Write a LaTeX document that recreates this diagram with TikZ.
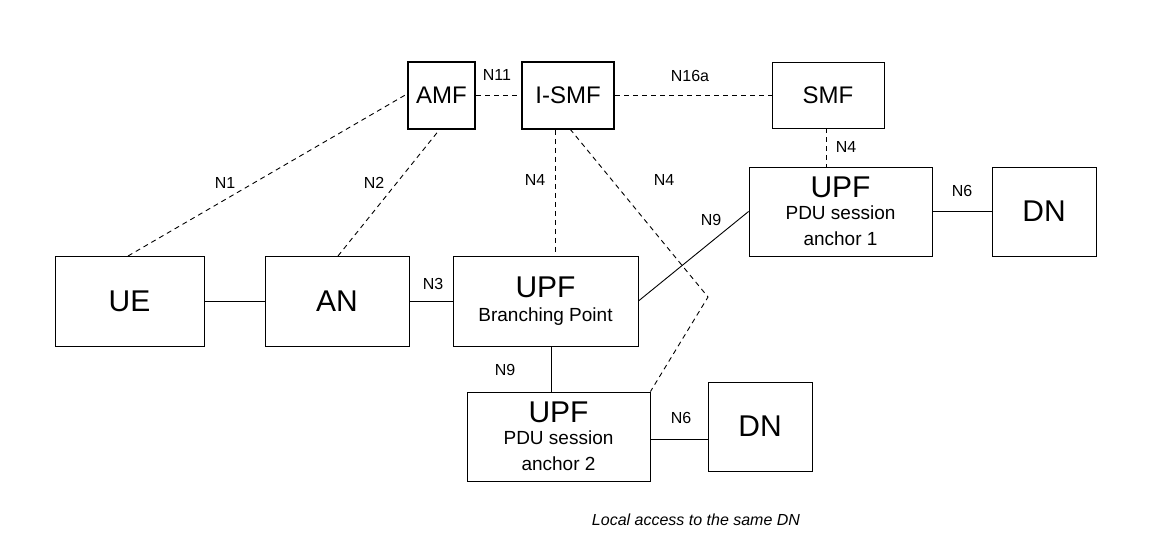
\documentclass[tikz,border=0pt]{standalone}
\usepackage{fontspec}
\setmainfont{Liberation Sans}
\usetikzlibrary{positioning}
\tikzset{
  nf/.style={draw, line width=0.9pt, inner sep=0pt, align=center, font=\fontsize{24}{26}\selectfont},
  nfthick/.style={nf, line width=2pt},
  lbl/.style={font=\fontsize{16}{18}\selectfont, inner sep=1pt},
  ctrl/.style={line width=0.9pt, dash pattern=on 5pt off 4pt},
  usr/.style={line width=0.9pt}
}
\newcommand{\bigtxt}{\fontsize{30}{30}\selectfont}
\newcommand{\smalltxt}{\fontsize{19}{22}\selectfont}
\begin{document}
\begin{tikzpicture}[x=1pt,y=-1pt]
\useasboundingbox (0,0) rectangle (1162,556);
% control plane
\node[nfthick, minimum width=67pt, minimum height=67pt] (amf) at (441.5,95.5) {AMF};
\node[nfthick, minimum width=92pt, minimum height=67pt] (ismf) at (568,95.5) {I-SMF};
\node[nf, minimum width=112pt, minimum height=66pt] (smf) at (828,95) {SMF};
% access and user plane
\node[nf, minimum width=149pt, minimum height=90pt, font=\bigtxt] (ue) at (129.5,301) {UE};
\node[nf, minimum width=144pt, minimum height=90pt, font=\bigtxt] (an) at (337,301) {AN};
\node[nf, minimum width=185pt, minimum height=90pt] (bp) at (545.5,301)
  {\bigtxt UPF\\[-2pt] \smalltxt Branching Point};
\node[nf, minimum width=183pt, minimum height=89pt] (psa1) at (840.5,211.5)
  {\bigtxt UPF\\[-4pt] \smalltxt PDU session\\ \smalltxt anchor 1};
\node[nf, minimum width=104pt, minimum height=89pt, font=\bigtxt] (dn1) at (1044,211.5) {DN};
\node[nf, minimum width=183pt, minimum height=89pt] (psa2) at (558.5,436.5)
  {\bigtxt UPF\\[-4pt] \smalltxt PDU session\\ \smalltxt anchor 2};
\node[nf, minimum width=104pt, minimum height=89pt, font=\bigtxt] (dn2) at (760,426.5) {DN};
\coordinate (bend) at (708,297);
% connectors
\draw[ctrl] (128,256) -- (amf.west |- 0,94);
\draw[ctrl] (338,256) -- (440,129);
\draw[ctrl] (amf.east |- 0,95) -- (ismf.west |- 0,95);
\draw[ctrl] (ismf.east |- 0,95) -- (smf.west |- 0,95);
\draw[ctrl] (ismf.south -| 555,0) -- (bp.north -| 555,0);
\draw[ctrl] (570,129) -- (bend) -- (psa2.north east);
\draw[ctrl] (smf.south -| 826,0) -- (psa1.north -| 826,0);
\draw[usr] (ue.east) -- (an.west);
\draw[usr] (an.east) -- (bp.west);
\draw[usr] (bp.east) -- (psa1.west);
\draw[usr] (psa1.east) -- (dn1.west);
\draw[usr] (bp.south -| 551,0) -- (psa2.north -| 551,0);
\draw[usr] (psa2.east |- 0,439) -- (dn2.west |- 0,439);
% labels
\node[lbl] (n1) at (225,183) {N1};
\node[lbl] (n2) at (374,183) {N2};
\node[lbl] (n11) at (497,75) {N11};
\node[lbl] (n16a) at (690,76) {N16a};
\node[lbl] (n4a) at (535,180) {N4};
\node[lbl] (n4b) at (664,180) {N4};
\node[lbl] (n4c) at (846,147) {N4};
\node[lbl] (n9a) at (711,220) {N9};
\node[lbl] (n6a) at (962,191) {N6};
\node[lbl] (n3) at (433,284) {N3};
\node[lbl] (n9b) at (505,370) {N9};
\node[lbl] (n6b) at (681,418) {N6};
\node[lbl, font=\fontsize{16}{18}\selectfont\itshape] (cap) at (696,520) {Local access to the same DN};
\end{tikzpicture}
\end{document}
